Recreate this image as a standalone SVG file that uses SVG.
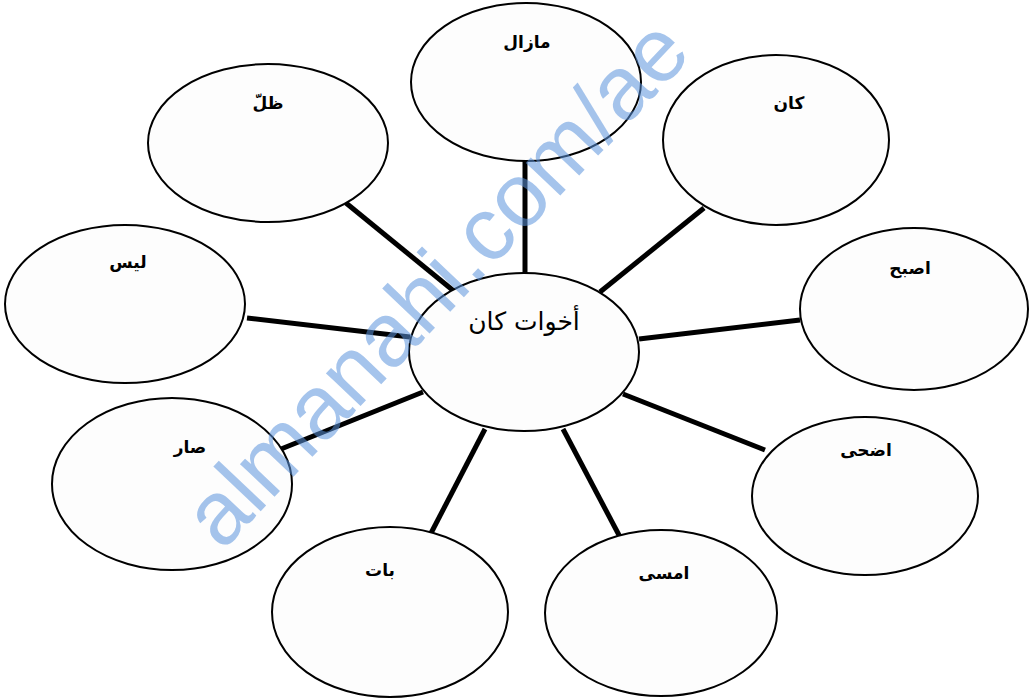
<svg xmlns="http://www.w3.org/2000/svg" width="1036" height="700" viewBox="0 0 1036 700">
<style>
.node ellipse{fill:#fdfdfd;stroke:#000;stroke-width:2}
.lbl{font-family:"DejaVu Sans",sans-serif;font-size:17px;font-weight:bold;text-anchor:middle;fill:#000}
.center{font-family:"DejaVu Sans",sans-serif;font-size:25px;text-anchor:middle;fill:#000}
#connectors line{stroke:#000;stroke-width:5;stroke-linecap:butt}
.wm{font-family:"Liberation Sans",Arial,sans-serif;font-size:90px;fill:#5b93dc;fill-opacity:0.55}
</style>
<rect width="1036" height="700" fill="#ffffff"/>
<g id="connectors">
<line x1="525" y1="160" x2="525" y2="274"/>
<line x1="346" y1="203" x2="455" y2="292"/>
<line x1="704" y1="208" x2="600" y2="292"/>
<line x1="247" y1="318" x2="410" y2="337"/>
<line x1="800" y1="320" x2="639" y2="339"/>
<line x1="281" y1="449" x2="423" y2="392"/>
<line x1="765" y1="450" x2="623" y2="394"/>
<line x1="429" y1="537" x2="485" y2="429"/>
<line x1="563" y1="429" x2="620" y2="537"/>
</g>
<g id="n-center" class="node"><ellipse cx="524" cy="352" rx="115" ry="79"/><text class="center" x="524" y="330">أخوات كان</text></g>
<g id="n-mazal" class="node"><ellipse cx="526" cy="82" rx="115" ry="79"/><text class="lbl" x="527" y="48">مازال</text></g>
<g id="n-dhalla" class="node"><ellipse cx="268" cy="143" rx="120" ry="79"/><text class="lbl" x="268" y="109">ظلّ</text></g>
<g id="n-kana" class="node"><ellipse cx="776" cy="140" rx="113" ry="85"/><text class="lbl" x="789" y="109">كان</text></g>
<g id="n-asbaha" class="node"><ellipse cx="914" cy="309" rx="114" ry="81"/><text class="lbl" x="910" y="274">اصبح</text></g>
<g id="n-laysa" class="node"><ellipse cx="125" cy="304" rx="120" ry="79"/><text class="lbl" x="128" y="268">ليس</text></g>
<g id="n-sara" class="node"><ellipse cx="172" cy="484" rx="120" ry="86"/><text class="lbl" x="190" y="453">صار</text></g>
<g id="n-adha" class="node"><ellipse cx="865" cy="496" rx="113" ry="79"/><text class="lbl" x="866" y="456">اضحى</text></g>
<g id="n-bata" class="node"><ellipse cx="390" cy="612" rx="118" ry="85"/><text class="lbl" x="380" y="576">بات</text></g>
<g id="n-amsa" class="node"><ellipse cx="661" cy="613" rx="116" ry="83"/><text class="lbl" x="664" y="579">امسى</text></g>
<text class="wm" transform="translate(222,552) rotate(-46.5)">almanahi.com/ae</text>
</svg>
